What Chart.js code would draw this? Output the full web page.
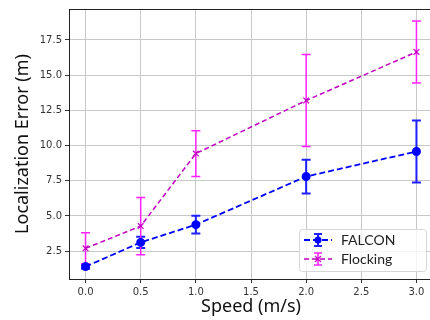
<!DOCTYPE html>
<html>
<head>
<meta charset="utf-8">
<script src="https://cdn.jsdelivr.net/npm/chart.js@4.4.1/dist/chart.umd.min.js"></script>
<style>
  html, body { margin: 0; padding: 0; background: #fff; overflow: hidden; }
  #wrap { width: 440px; height: 320px; }
</style>
</head>
<body>
<div id="wrap"><canvas id="errChart" width="440" height="320"></canvas></div>
<script>
// Data
const speeds = [0.0, 0.5, 1.0, 2.0, 3.0];
const falconMean = [1.4, 3.12, 4.38, 7.8, 9.58];
const falconErr = [0.15, 0.4, 0.63, 1.2, 2.2];
const flockingMean = [2.7, 4.28, 9.43, 13.2, 16.65];
const flockingErr = [1.1, 2.03, 1.63, 3.26, 2.2];

const xTicks = [0.0, 0.5, 1.0, 1.5, 2.0, 2.5, 3.0];
const yTicks = [2.5, 5.0, 7.5, 10.0, 12.5, 15.0, 17.5];

const tickFont = { family: "DejaVu Sans", size: 10 };
const titleFont = { family: "Noto Sans", size: 18 };

// vertical error bars with caps, through the chart's scales
const errorBars = {
  id: "errorBars",
  beforeDatasetsDraw(chart) {
    const { ctx, scales: { x, y } } = chart;
    chart.data.datasets.forEach((ds) => {
      ctx.save();
      ctx.strokeStyle = ds.errColor;
      ctx.lineWidth = ds.errWidth;
      ds.data.forEach((p, i) => {
        const px = x.getPixelForValue(p.x);
        const top = y.getPixelForValue(p.y + ds.errors[i]);
        const bot = y.getPixelForValue(p.y - ds.errors[i]);
        ctx.beginPath();
        ctx.moveTo(px, top);
        ctx.lineTo(px, bot);
        ctx.moveTo(px - 4.5, top);
        ctx.lineTo(px + 4.5, top);
        ctx.moveTo(px - 4.5, bot);
        ctx.lineTo(px + 4.5, bot);
        ctx.stroke();
      });
      ctx.restore();
    });
  },
};

// frame round the plot and a legend inside it
const frameAndLegend = {
  id: "frameAndLegend",
  afterDraw(chart) {
    const { ctx, chartArea: a } = chart;
    ctx.save();
    ctx.strokeStyle = "#222";
    ctx.lineWidth = 1;
    ctx.strokeRect(a.left + 0.5, a.top + 0.5, a.right - a.left, a.bottom - a.top);

    // legend box
    const bx = 299, by = 229, bw = 127, bh = 42;
    ctx.fillStyle = "rgba(255,255,255,0.8)";
    ctx.strokeStyle = "#d6d6d6";
    ctx.beginPath();
    ctx.roundRect(bx + 0.5, by + 0.5, bw, bh, 3);
    ctx.fill();
    ctx.stroke();

    chart.data.datasets.forEach((ds, i) => {
      const cy = by + 11 + i * 19;
      const x0 = 304, x1 = 332, mx = 318;
      ctx.strokeStyle = ds.borderColor;
      ctx.lineWidth = ds.borderWidth;
      ctx.setLineDash(ds.borderDash);
      ctx.beginPath();
      ctx.moveTo(x0, cy);
      ctx.lineTo(x1, cy);
      ctx.stroke();
      ctx.setLineDash([]);
      ctx.strokeStyle = ds.errColor;
      ctx.lineWidth = ds.errWidth;
      ctx.beginPath();
      ctx.moveTo(mx, cy - 6);
      ctx.lineTo(mx, cy + 6);
      ctx.moveTo(mx - 4, cy - 6);
      ctx.lineTo(mx + 4, cy - 6);
      ctx.moveTo(mx - 4, cy + 6);
      ctx.lineTo(mx + 4, cy + 6);
      ctx.stroke();
      if (ds.pointStyle === "circle") {
        ctx.fillStyle = ds.pointBackgroundColor;
        ctx.beginPath();
        ctx.arc(mx, cy, 3.5, 0, Math.PI * 2);
        ctx.fill();
      } else {
        ctx.strokeStyle = ds.pointBorderColor;
        ctx.lineWidth = 1.2;
        ctx.beginPath();
        ctx.moveTo(mx - 3, cy - 3);
        ctx.lineTo(mx + 3, cy + 3);
        ctx.moveTo(mx - 3, cy + 3);
        ctx.lineTo(mx + 3, cy - 3);
        ctx.stroke();
      }
      ctx.fillStyle = "#222";
      ctx.font = "14px Lato";
      ctx.textBaseline = "middle";
      ctx.fillText(ds.label, 341, cy);
    });
    ctx.restore();
  },
};

const toPoints = (ys) => speeds.map((s, i) => ({ x: s, y: ys[i] }));

new Chart(document.getElementById("errChart"), {
  type: "line",
  data: {
    datasets: [
      {
        label: "FALCON",
        data: toPoints(falconMean),
        errors: falconErr,
        errColor: "#1f1fff",
        errWidth: 2,
        borderColor: "#0000ff",
        borderWidth: 1.8,
        borderDash: [6, 3],
        pointStyle: "circle",
        pointRadius: 3.6,
        pointBackgroundColor: "#0000ff",
        pointBorderColor: "#0000ff",
        fill: false,
      },
      {
        label: "Flocking",
        data: toPoints(flockingMean),
        errors: flockingErr,
        errColor: "#ff22ff",
        errWidth: 1.5,
        borderColor: "#bf00bf",
        borderWidth: 1.5,
        borderDash: [5, 3],
        pointStyle: "crossRot",
        pointRadius: 4,
        pointBorderWidth: 1.2,
        pointBackgroundColor: "#bf00bf",
        pointBorderColor: "#bf00bf",
        fill: false,
      },
    ],
  },
  options: {
    responsive: false,
    animation: false,
    layout: { padding: { left: 0, right: 7, top: 8, bottom: 0 } },
    plugins: { legend: { display: false }, tooltip: { enabled: false } },
    scales: {
      x: {
        type: "linear",
        min: -0.15,
        max: 3.15,
        afterBuildTicks: (axis) => { axis.ticks = xTicks.map((v) => ({ value: v })); },
        afterFit: (axis) => { axis.height = 41; },
        ticks: { font: tickFont, color: "#333", padding: 3, maxRotation: 0, callback: (v) => v.toFixed(1) },
        grid: { color: "#c8c8c8", tickColor: "#333", tickLength: 4 },
        border: { color: "#222" },
        title: { display: true, text: "Speed (m/s)", font: titleFont, color: "#111", padding: { top: 0, bottom: 2 } },
      },
      y: {
        min: 0.52,
        max: 19.7,
        afterBuildTicks: (axis) => { axis.ticks = yTicks.map((v) => ({ value: v })); },
        afterFit: (axis) => { axis.width = 69; },
        ticks: { font: tickFont, color: "#333", padding: 3, callback: (v) => v.toFixed(1) },
        grid: { color: "#c8c8c8", tickColor: "#333", tickLength: 4 },
        border: { color: "#222" },
        title: { display: true, text: "Localization Error (m)", font: titleFont, color: "#111", padding: { top: 12, bottom: 0 } },
      },
    },
  },
  plugins: [errorBars, frameAndLegend],
});
</script>
</body>
</html>
